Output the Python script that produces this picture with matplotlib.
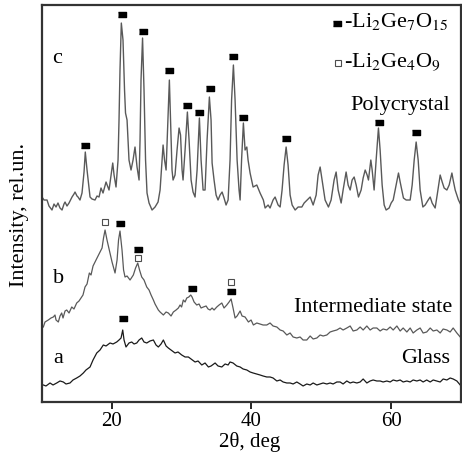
import numpy as np
import matplotlib
matplotlib.use('Agg')
import matplotlib.pyplot as plt

plt.rcParams['font.family'] = 'serif'
plt.rcParams['font.serif'] = ['Liberation Serif', 'DejaVu Serif']
plt.rcParams['mathtext.fontset'] = 'stix'

# pattern c - polycrystal
tt_c = [10.00, 10.29, 10.72, 11.00, 11.43, 11.72, 12.01, 12.29, 12.58, 12.87, 13.15, 13.30, 13.58, 13.87,
        14.15, 14.30, 14.58, 14.73, 15.01, 15.16, 15.44, 15.73, 16.02, 16.20, 16.45, 16.88, 17.16, 17.59,
        17.88, 18.17, 18.45, 18.74, 19.17, 19.60, 19.89, 20.13, 20.32, 20.60, 20.89, 21.03, 21.17, 21.36,
        21.60, 21.82, 21.96, 22.18, 22.46, 22.75, 23.04, 23.32, 23.61, 23.90, 24.04, 24.18, 24.40, 24.61,
        24.83, 25.04, 25.33, 25.76, 26.19, 26.62, 26.91, 27.19, 27.34, 27.55, 27.77, 27.98, 28.24, 28.41,
        28.62, 28.77, 29.05, 29.34, 29.63, 29.84, 30.06, 30.20, 30.49, 30.82, 31.06, 31.35, 31.63, 31.92,
        32.21, 32.54, 32.78, 33.07, 33.35, 33.64, 33.97, 34.21, 34.36, 34.64, 34.93, 35.21, 35.50, 35.79,
        36.07, 36.36, 36.65, 36.93, 37.15, 37.41, 37.65, 37.94, 38.22, 38.37, 38.58, 38.84, 39.08, 39.33,
        39.51, 39.80, 40.23, 40.76, 41.23, 41.70, 41.95, 42.38, 42.66, 43.09, 43.38, 43.81, 44.10, 44.38,
        44.67, 44.96, 45.24, 45.53, 45.82, 46.25, 46.68, 47.21, 47.54, 47.97, 48.40, 48.83, 49.26, 49.54,
        49.83, 50.11, 50.54, 51.02, 51.40, 51.83, 52.12, 52.41, 52.84, 53.12, 53.55, 53.84, 54.13, 54.41,
        54.70, 54.99, 55.32, 55.70, 55.99, 56.28, 56.56, 56.75, 57.09, 57.28, 57.56, 57.85, 58.18, 58.42,
        58.71, 59.00, 59.28, 59.71, 60.00, 60.29, 60.72, 61.05, 61.29, 61.76, 62.15, 62.72, 63.01, 63.30,
        63.58, 63.87, 64.15, 64.54, 64.87, 65.30, 65.59, 65.87, 66.30, 66.59, 67.02, 67.31, 67.59, 67.98,
        68.31, 68.70, 68.88, 69.17, 69.64, 69.99]
int_c = [205, 202, 202, 196, 192, 198, 195, 199, 194, 192, 198, 200, 196, 199,
         203, 205, 208, 210, 206, 205, 202, 209, 230, 250, 232, 205, 203, 202,
         206, 205, 214, 209, 220, 212, 227, 239, 227, 215, 242, 282, 332, 379,
         362, 312, 289, 282, 242, 232, 242, 255, 235, 222, 262, 322, 364, 312,
         242, 209, 199, 192, 195, 200, 212, 242, 257, 242, 232, 272, 322, 282,
         232, 222, 227, 252, 274, 267, 232, 222, 252, 290, 262, 222, 210, 205,
         232, 284, 242, 212, 212, 262, 305, 282, 239, 222, 207, 202, 207, 210,
         204, 197, 202, 242, 302, 337, 302, 242, 212, 202, 242, 279, 252, 255,
         242, 229, 215, 217, 209, 202, 194, 197, 194, 202, 205, 197, 195, 212,
         237, 255, 237, 207, 197, 192, 195, 195, 199, 202, 205, 197, 207, 227,
         235, 222, 202, 195, 202, 222, 230, 212, 199, 212, 230, 217, 212, 222,
         225, 217, 205, 212, 224, 232, 227, 222, 242, 232, 212, 242, 274, 252,
         217, 197, 192, 194, 199, 202, 217, 229, 220, 204, 202, 202, 217, 242,
         260, 242, 212, 195, 197, 202, 205, 199, 194, 207, 227, 220, 214, 212,
         217, 229, 222, 212, 202, 197]

# pattern b - intermediate state
tt_b = [10.19, 10.43, 10.90, 11.29, 11.62, 11.86, 12.01, 12.34, 12.58, 12.82, 13.01, 13.30, 13.54, 13.87,
        14.26, 14.58, 14.97, 15.30, 15.69, 15.87, 16.16, 16.45, 16.78, 17.02, 17.31, 17.59, 17.88, 18.31,
        18.60, 18.81, 19.03, 19.31, 19.74, 20.03, 20.46, 20.75, 20.96, 21.17, 21.46, 21.68, 21.89, 22.18,
        22.61, 22.89, 23.08, 23.40, 23.71, 23.97, 24.28, 24.61, 25.00, 25.33, 25.62, 25.95, 26.19, 26.66,
        26.91, 27.38, 27.77, 28.09, 28.48, 28.81, 29.20, 29.53, 29.77, 29.99, 30.24, 30.49, 30.73, 31.02,
        31.30, 31.49, 31.78, 32.16, 32.49, 32.78, 33.11, 33.50, 33.78, 34.07, 34.36, 34.64, 35.03, 35.36,
        35.75, 36.07, 36.46, 36.79, 37.08, 37.36, 37.65, 37.94, 38.37, 38.65, 39.08, 39.56, 39.94, 40.27,
        40.76, 41.23, 41.66, 42.19, 42.66, 43.09, 43.63, 44.10, 44.53, 45.06, 45.53, 45.96, 46.49, 46.96,
        47.39, 47.92, 48.40, 48.83, 49.36, 49.83, 50.26, 50.79, 51.26, 51.69, 52.22, 52.69, 53.12, 53.65,
        54.13, 54.56, 55.09, 55.56, 55.99, 56.52, 56.99, 57.42, 57.95, 58.42, 58.85, 59.38, 59.86, 60.29,
        60.82, 61.29, 61.72, 62.25, 62.72, 63.15, 63.68, 64.15, 64.58, 65.09, 65.59, 66.02, 66.55, 67.02,
        67.45, 67.98, 68.45, 68.88, 69.41, 69.89]
int_b = [75, 80, 82, 84, 85, 87, 82, 80, 86, 89, 84, 91, 92, 89,
         95, 93, 99, 101, 105, 107, 115, 118, 129, 127, 136, 140, 144, 150,
         154, 164, 172, 162, 149, 140, 129, 142, 162, 171, 152, 132, 125, 126,
         122, 125, 127, 134, 139, 132, 125, 122, 115, 112, 107, 102, 98, 92,
         90, 87, 90, 89, 86, 90, 92, 94, 97, 95, 102, 100, 104, 105,
         107, 105, 100, 97, 98, 94, 95, 96, 93, 92, 94, 92, 95, 97,
         99, 94, 97, 100, 103, 94, 84, 86, 91, 86, 85, 80, 82, 77,
         79, 78, 77, 77, 79, 76, 75, 72, 71, 67, 69, 65, 64, 65,
         62, 62, 66, 63, 64, 67, 66, 67, 70, 71, 72, 74, 72, 74,
         76, 71, 72, 75, 72, 76, 72, 74, 74, 71, 73, 72, 75, 72,
         76, 71, 74, 70, 74, 69, 72, 74, 69, 70, 74, 71, 72, 69,
         73, 72, 70, 74, 69, 65]

# pattern a - glass
tt_a = [10.19, 10.57, 11.15, 11.58, 12.11, 12.58, 13.05, 13.44, 14.01, 14.44, 14.97, 15.44, 15.92, 16.30,
        16.88, 17.31, 17.84, 18.31, 18.78, 19.17, 19.74, 20.17, 20.70, 21.03, 21.32, 21.56, 21.75, 22.03,
        22.46, 22.85, 23.18, 23.57, 23.90, 24.28, 24.61, 25.00, 25.47, 25.95, 26.33, 26.66, 27.05, 27.38,
        27.77, 28.09, 28.48, 29.05, 29.48, 30.01, 30.49, 30.96, 31.35, 31.92, 32.35, 32.88, 33.35, 33.83,
        34.21, 34.79, 35.21, 35.75, 36.22, 36.65, 36.93, 37.36, 37.89, 38.37, 38.80, 39.33, 39.80, 40.23,
        40.76, 41.23, 41.66, 42.19, 42.66, 43.09, 43.63, 44.10, 44.53, 45.06, 45.53, 45.96, 46.49, 46.96,
        47.39, 47.92, 48.40, 48.83, 49.36, 49.83, 50.26, 50.79, 51.26, 51.69, 52.22, 52.69, 53.12, 53.65,
        54.13, 54.56, 55.09, 55.56, 55.99, 56.52, 56.99, 57.42, 57.95, 58.42, 58.85, 59.38, 59.86, 60.29,
        60.82, 61.29, 61.72, 62.25, 62.72, 63.15, 63.68, 64.15, 64.58, 65.09, 65.59, 66.02, 66.55, 67.02,
        67.45, 67.98, 68.45, 68.88, 69.41, 69.89]
int_a = [17, 16, 19, 17, 19, 21, 20, 18, 19, 22, 24, 26, 29, 32,
         35, 42, 49, 52, 57, 56, 59, 58, 60, 62, 64, 72, 62, 55,
         59, 60, 58, 59, 62, 64, 60, 59, 61, 62, 57, 55, 58, 62,
         56, 54, 52, 49, 50, 47, 45, 45, 43, 40, 41, 37, 39, 35,
         36, 39, 36, 35, 38, 37, 40, 39, 36, 35, 33, 32, 30, 29,
         28, 27, 26, 25, 25, 24, 21, 22, 20, 19, 19, 18, 20, 18,
         16, 18, 17, 19, 17, 18, 19, 18, 19, 18, 20, 20, 18, 21,
         19, 20, 19, 20, 23, 19, 21, 22, 21, 21, 20, 21, 20, 22,
         21, 22, 20, 21, 20, 22, 21, 22, 20, 22, 20, 22, 21, 20,
         23, 22, 24, 23, 21, 17]

# phase markers (2theta, height)
li2ge7o15_x = [16.2, 21.4, 24.4, 28.2, 30.8, 32.5, 34.0, 37.4, 38.8, 45.0, 58.2, 63.6,
               21.2, 23.7, 31.5, 37.1, 21.6]
li2ge7o15_y = [257, 388, 371, 332, 297, 290, 314, 346, 285, 264, 280, 270,
               179, 153, 114, 111, 84]
li2ge4o9_x = [19.0, 23.7, 37.1]
li2ge4o9_y = [180, 144, 120]

fig = plt.figure(figsize=(4.62, 4.58), dpi=100)
ax = fig.add_axes([0.0909, 0.1223, 0.9069, 0.8667])

ax.plot(tt_c, int_c, '-', color='0.35', lw=1.0)
ax.plot(tt_b, int_b, '-', color='0.35', lw=0.9)
ax.plot(tt_a, int_a, '-', color='0.1', lw=0.9)

rect = [(-1, -0.6), (1, -0.6), (1, 0.6), (-1, 0.6)]
ax.plot(li2ge7o15_x, li2ge7o15_y, ls='none', marker=rect, ms=6, color='black')
ax.plot(li2ge4o9_x, li2ge4o9_y, ls='none', marker='s', ms=4.5, mfc='white', mec='0.3', mew=0.8)

# legend
ax.plot([52.3], [379], ls='none', marker=rect, ms=6, color='black')
ax.plot([52.4], [339], ls='none', marker='s', ms=4.5, mfc='white', mec='0.3', mew=0.8)
ax.text(53.3, 375, r'-Li$_2$Ge$_7$O$_{15}$', fontsize=16, ha='left', va='baseline')
ax.text(53.3, 335, r'-Li$_2$Ge$_4$O$_9$', fontsize=16, ha='left', va='baseline')

# labels of the patterns
ax.text(11.43, 339, 'c', fontsize=16, va='baseline')
ax.text(11.58, 119, 'b', fontsize=16, va='baseline')
ax.text(11.58, 39, 'a', fontsize=16, va='baseline')
ax.text(68.45, 292, 'Polycrystal', fontsize=16, ha='right', va='baseline')
ax.text(68.7, 90, 'Intermediate state', fontsize=16, ha='right', va='baseline')
ax.text(68.45, 39, 'Glass', fontsize=16, ha='right', va='baseline')

ax.set_xlim(10, 70)
ax.set_ylim(0, 397)
ax.set_xticks([20, 40, 60])
ax.set_yticks([])
ax.tick_params(axis='x', direction='out', length=5, width=1.2, labelsize=15, pad=2)
for s in ax.spines.values():
    s.set_linewidth(1.6)
    s.set_color('0.2')

ax.set_xlabel('2\u03b8, deg', fontsize=15)
ax.xaxis.set_label_coords(0.496, -0.075)
fig.text(20 / 462, 1 - 215 / 458, 'Intensity, rel.un.', rotation=90, fontsize=16,
         ha='center', va='center')

fig.savefig('out.png', dpi=100)
